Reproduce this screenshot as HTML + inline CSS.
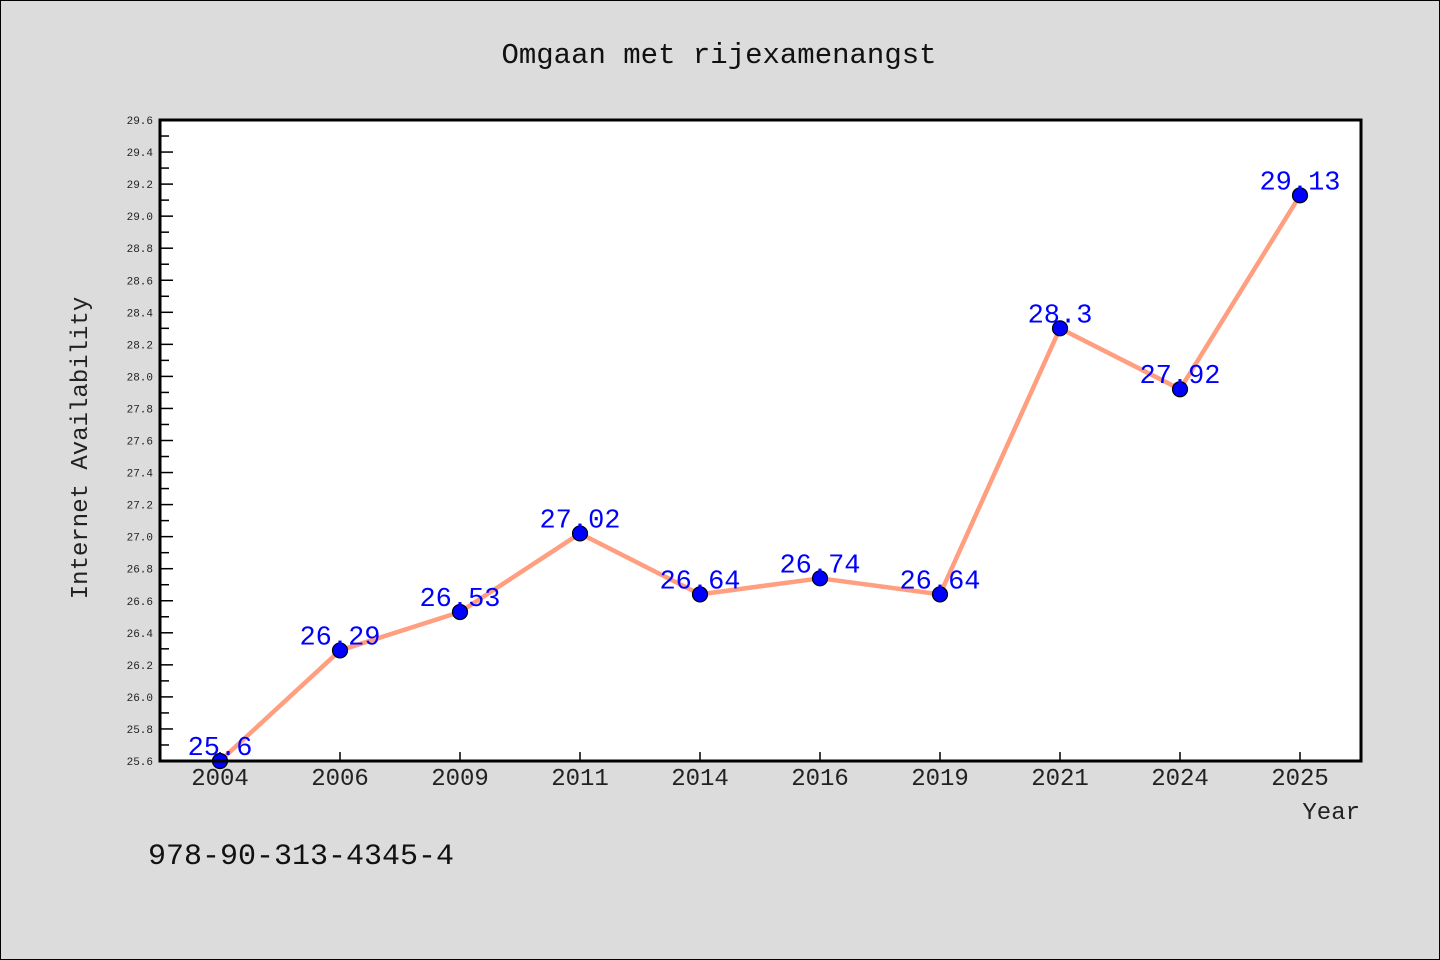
<!DOCTYPE html>
<html><head><meta charset="utf-8"><style>
body{margin:0;background:#dcdcdc}
svg{display:block}
text{font-family:"WenQuanYi Zen Hei","Liberation Mono",monospace}
</style></head><body>
<svg id="c" width="1440" height="960" xmlns="http://www.w3.org/2000/svg">
<rect x="0.5" y="0.5" width="1439" height="959" fill="#dcdcdc" stroke="#000"/>
<text x="719" y="63" font-size="29" text-anchor="middle" fill="#111">Omgaan met rijexamenangst</text>
<rect x="160" y="120" width="1201" height="641" fill="#fff"/>
<g id="grid"></g>
<g id="marks"></g>
<rect x="160" y="120" width="1201" height="641" fill="none" stroke="#000" stroke-width="3"/>
<text x="87" y="448" font-size="24" text-anchor="middle" fill="#222" transform="rotate(-90 87 448)">Internet Availability</text>
<text x="1360" y="819" font-size="24" text-anchor="end" fill="#222">Year</text>
<text x="148" y="864" font-size="30" fill="#111">978-90-313-4345-4</text>
</svg>
<script>
const categories=["2004","2006","2009","2011","2014","2016","2019","2021","2024","2025"];
const values=[25.6,26.29,26.53,27.02,26.64,26.74,26.64,28.3,27.92,29.13];
const labels=["25.6","26.29","26.53","27.02","26.64","26.74","26.64","28.3","27.92","29.13"];
const yMin=25.6,yMax=29.6;
const NS="http://www.w3.org/2000/svg";
const L=160,R=1361,T=120,B=761;
function xs(i){return 220+i*(1300-220)/(categories.length-1);}
function ys(v){return B-(v-yMin)/(yMax-yMin)*(B-T);}
function mk(t,a,p){const e=document.createElementNS(NS,t);for(const k in a)e.setAttribute(k,a[k]);p.appendChild(e);return e;}
const g=document.getElementById('grid'),m=document.getElementById('marks');
for(let k=0;k<=40;k++){const v=yMin+k*0.1,y=ys(v),major=k%2==0;
const tk=mk('line',{x1:L,x2:L+(major?13:9),y1:y,y2:y,stroke:'#000','stroke-width':1.5},g);


if(major){const t=mk('text',{x:153,y:y+4,'font-size':11,'text-anchor':'end',fill:'#222'},g);t.textContent=v.toFixed(1);

}}
categories.forEach((c,i)=>{const x=xs(i);
const tk=mk('line',{x1:x,x2:x,y1:B,y2:B-9,stroke:'#000','stroke-width':1.5},g);


const t=mk('text',{x:x,y:785,'font-size':24,'text-anchor':'middle',fill:'#222'},g);t.textContent=c;

});
const line=mk('polyline',{points:values.map((v,i)=>xs(i)+','+ys(v)).join(' '),fill:'none',stroke:'#ff9f7f','stroke-width':4.5,'stroke-linejoin':'round'},m);


values.forEach((v,i)=>{const p=mk('circle',{cx:xs(i),cy:ys(v),r:7.5,fill:'#0000ff',stroke:'#000','stroke-width':1.2},m);

});
values.forEach((v,i)=>{const t=mk('text',{x:xs(i),y:ys(v)-6,'font-size':27,'text-anchor':'middle',fill:'#0000ff'},m);t.textContent=labels[i];

});
</script>
</body></html>
